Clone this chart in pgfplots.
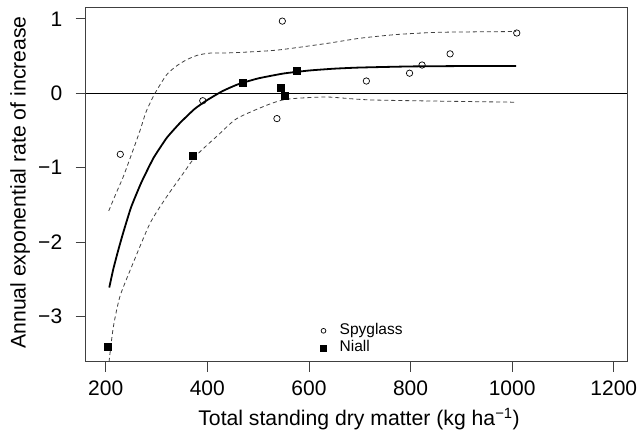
\documentclass[border=0pt]{standalone}
\usepackage{pgfplots}
\pgfplotsset{compat=1.18}
\usepackage{fontspec}
\setmainfont{Liberation Sans}
\begin{document}
\begin{tikzpicture}
\useasboundingbox (0,0) rectangle (638bp,436bp);
\begin{axis}[
  at={(85.7bp,74.3bp)}, anchor=south west,
  scale only axis, width=541.3bp, height=354.2bp,
  xmin=160.6, xmax=1226, ymin=-3.607, ymax=1.153,
  axis line style={black!75, line width=0.8bp},
  tick style={black!75, line width=0.8bp},
  tick align=outside, major tick length=10bp,
  xtick={200,400,600,800,1000,1200},
  xticklabels={200,400,600,800,1000,1200},
  ytick={-3,-2,-1,0,1},
  yticklabels={−3,−2,−1,0,1},
  xtick pos=bottom, ytick pos=left,
  tick label style={font=\fontsize{21bp}{24bp}\selectfont},
  xticklabel style={anchor=base, yshift=-23.3bp},
  yticklabel style={anchor=east, xshift=-10bp},
  xlabel={Total standing dry matter (kg ha\textsuperscript{−1})},
  ylabel={Annual exponential rate of increase},
  every axis x label/.style={at={(axis description cs:0.505,-0.1815)}, anchor=base,
    font=\fontsize{21.2bp}{24bp}\selectfont},
  every axis y label/.style={at={(axis description cs:-0.1108,0.506)}, anchor=base, rotate=90,
    font=\fontsize{21.2bp}{24bp}\selectfont},
  legend style={at={(axis cs:620,-3.075)}, anchor=north west, draw=none, fill=none,
    font=\fontsize{15.5bp}{17bp}\selectfont, row sep=0bp, inner sep=0pt,
    nodes={inner xsep=1bp, inner ysep=1bp, text height=11bp, text depth=4bp},
    cells={anchor=west}},
  legend image code/.code={\path (-4bp,0bp) (15bp,0bp); \draw[#1] plot coordinates {(0bp,0bp)};},
  legend cell align=left,
  clip=true,
]
% zero line
\addplot[black, line width=0.8bp, forget plot] coordinates {(160.6,0) (1226,0)};
% fitted curve
\addplot[black, line width=1.8bp, smooth, tension=0.3, forget plot] coordinates {
(207,-2.61) (215,-2.36) (225,-2.10) (235,-1.86) (250,-1.53) (270,-1.20) (294,-0.87)
(320,-0.60) (346,-0.40) (375,-0.21) (400,-0.09) (430,0.03)
(460,0.12) (500,0.20) (550,0.266) (600,0.306) (650,0.331) (700,0.346)
(800,0.361) (900,0.366) (1008,0.368)};
% upper confidence band
\addplot[black!75, line width=0.8bp, dash pattern=on 4bp off 3bp, smooth, tension=0.4, forget plot] coordinates {
(206,-1.58) (220,-1.35) (234.6,-1.12) (254,-0.76) (267.5,-0.50) (280,-0.24) (297,0) (320,0.25)
(340,0.37) (359,0.45) (380,0.51) (405,0.54) (451,0.545) (536.6,0.58) (635,0.67)
(700.6,0.74) (773,0.79) (858,0.82) (1008,0.83)};
% lower confidence band
\addplot[black!75, line width=0.8bp, dash pattern=on 4bp off 3bp, smooth, tension=0.4, forget plot] coordinates {
(206.5,-3.61) (215,-3.14) (228,-2.73) (251,-2.33) (287,-1.75) (320,-1.39)
(352.7,-1.075) (379,-0.83) (421.6,-0.56) (457.9,-0.34) (517,-0.16)
(556,-0.08) (635,-0.05) (726.8,-0.09) (1008,-0.12)};
% Spyglass
\addplot[only marks, mark=o, mark size=3.2bp, mark options={black, line width=0.7bp}, forget plot] coordinates {
(228.7,-0.82) (391,-0.10) (537,-0.34) (547.6,0.97) (713,0.165) (798,0.27)
(822.6,0.38) (877.8,0.53) (1009,0.81)};
% Niall
\addplot[only marks, mark=square*, mark size=3.6bp, mark options={black, fill=black}, forget plot] coordinates {
(204.5,-3.41) (370.5,-0.84) (469.7,0.14) (545,0.07) (553,-0.03) (576,0.30)};
\addlegendimage{only marks, mark=o, mark size=2.4bp, mark options={black, line width=0.7bp}}
\addlegendentry{Spyglass}
\addlegendimage{only marks, mark=square*, mark size=3bp, mark options={black, fill=black}}
\addlegendentry{Niall}
\end{axis}
\end{tikzpicture}
\end{document}
